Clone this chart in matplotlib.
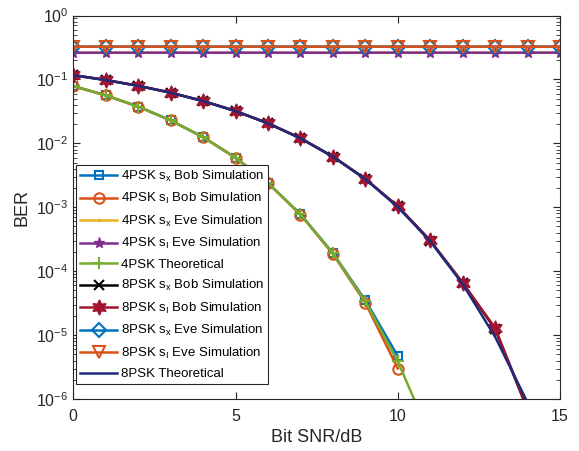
import matplotlib
matplotlib.use('Agg')
import matplotlib.pyplot as plt
import numpy as np

plt.rcParams['font.family'] = ['Liberation Sans', 'DejaVu Sans']
plt.rcParams['mathtext.fontset'] = 'custom'
plt.rcParams['mathtext.rm'] = 'Liberation Sans'
plt.rcParams['mathtext.default'] = 'regular'

AX_COLOR = '#262626'

snr_sim4 = [0, 1, 2, 3, 4, 5, 6, 7, 8, 9, 10]
snr_th4 = [0, 1, 2, 3, 4, 5, 6, 7, 8, 9, 10, 11]
snr_sim8 = [0, 1, 2, 3, 4, 5, 6, 7, 8, 9, 10, 11, 12, 13, 14]
snr_all = [0, 1, 2, 3, 4, 5, 6, 7, 8, 9, 10, 11, 12, 13, 14, 15]

# 4PSK
ber4_sx_bob = [0.0787, 0.0563, 0.0376, 0.0229, 0.0125, 0.00597, 0.00240, 7.8e-4, 1.92e-4, 3.5e-5, 4.7e-6]
ber4_si_bob = [0.0785, 0.0562, 0.0375, 0.0228, 0.0125, 0.00594, 0.00238, 7.7e-4, 1.86e-4, 3.2e-5, 3.0e-6]
ber4_sx_eve = [0.262, 0.262, 0.261, 0.262, 0.262, 0.262, 0.261, 0.262, 0.262, 0.262, 0.262, 0.261, 0.262, 0.262, 0.262, 0.262]
ber4_si_eve = [0.261, 0.262, 0.262, 0.262, 0.261, 0.262, 0.262, 0.262, 0.261, 0.262, 0.262, 0.262, 0.262, 0.261, 0.262, 0.262]
ber4_theory = [0.0787, 0.0563, 0.0375, 0.0229, 0.0125, 0.00595, 0.00239, 7.73e-4, 1.91e-4, 3.36e-5, 3.87e-6, 2.61e-7]

# 8PSK
ber8_sx_bob = [0.1165, 0.0978, 0.0794, 0.0620, 0.0459, 0.0320, 0.0206, 0.0120, 0.00620, 0.00277, 0.00103, 3.0e-4, 6.5e-5, 1.25e-5, 6.8e-7]
ber8_si_bob = [0.1168, 0.0980, 0.0796, 0.0621, 0.0460, 0.0321, 0.0206, 0.0121, 0.00622, 0.00279, 0.00104, 3.02e-4, 6.6e-5, 1.29e-5, 7.0e-7]
ber8_sx_eve = [0.326, 0.325, 0.326, 0.326, 0.325, 0.326, 0.326, 0.326, 0.325, 0.326, 0.326, 0.326, 0.325, 0.326, 0.326, 0.326]
ber8_si_eve = [0.325, 0.326, 0.326, 0.325, 0.326, 0.326, 0.326, 0.325, 0.326, 0.326, 0.325, 0.326, 0.326, 0.326, 0.325, 0.326]
ber8_theory = [0.1162, 0.0977, 0.0793, 0.0619, 0.0458, 0.0319, 0.0205, 0.01195, 0.00618, 0.00275, 0.00101, 2.94e-4, 6.3e-5, 9.4e-6, 8.8e-7, 4.5e-8]

labels = [
    '4PSK s$_x$ Bob Simulation',
    '4PSK s$_I$ Bob Simulation',
    '4PSK s$_x$ Eve Simulation',
    '4PSK s$_I$ Eve Simulation',
    '4PSK Theoretical',
    '8PSK s$_x$ Bob Simulation',
    '8PSK s$_I$ Bob Simulation',
    '8PSK s$_x$ Eve Simulation',
    '8PSK s$_I$ Eve Simulation',
    '8PSK Theoretical',
]

fig = plt.figure(figsize=(5.79, 4.51), dpi=100)
ax = fig.add_axes([73.3 / 579, 1 - 399 / 451, (560 - 73.3) / 579, (399 - 15.5) / 451])

lw = 1.8
mew = 1.5
ax.semilogy(snr_sim4, ber4_sx_bob, ls='-', marker='s', color='#0072BD', lw=lw, ms=6, mew=mew, mfc='none', label=labels[0])
ax.semilogy(snr_sim4, ber4_si_bob, ls='-', marker='o', color='#D95319', lw=lw, ms=7.5, mew=mew, mfc='none', label=labels[1])
ax.semilogy(snr_all, ber4_sx_eve, ls='-', marker='.', color='#EDB120', lw=lw, ms=3, label=labels[2])
ax.semilogy(snr_all, ber4_si_eve, ls='-', marker='*', color='#7E2F8E', lw=lw, ms=8, mew=1.0, label=labels[3])
ax.semilogy(snr_th4, ber4_theory, ls='-', marker='+', color='#77AC30', lw=lw, ms=9, mew=mew, label=labels[4])
ax.semilogy(snr_sim8, ber8_sx_bob, ls='-', marker='x', color='black', lw=lw, ms=7, mew=mew, label=labels[5])
ax.semilogy(snr_sim8, ber8_si_bob, ls='-', marker=(6, 1, 0), color='#A2142F', lw=lw, ms=11, mew=1.0, label=labels[6])
ax.semilogy(snr_all, ber8_sx_eve, ls='-', marker='D', color='#0072BD', lw=lw, ms=7.5, mew=mew, mfc='none', label=labels[7])
ax.semilogy(snr_all, ber8_si_eve, ls='-', marker='v', color='#D95319', lw=lw, ms=9, mew=mew, mfc='none', label=labels[8])
ax.semilogy(snr_all, ber8_theory, ls='-', color='#202A7A', lw=lw, label=labels[9])

ax.set_xlim(0, 15)
ax.set_ylim(1e-6, 1e0)
ax.set_xticks([0, 5, 10, 15])
ax.set_yticks([1e-6, 1e-5, 1e-4, 1e-3, 1e-2, 1e-1, 1e0])

for spine in ax.spines.values():
    spine.set_color(AX_COLOR)
    spine.set_linewidth(0.8)
ax.tick_params(which='both', direction='in', top=True, right=True, colors=AX_COLOR, labelsize=11.5)
ax.tick_params(which='major', length=5)
ax.tick_params(which='minor', length=3)
ax.tick_params(axis='x', pad=7)

ax.set_xlabel('Bit SNR/dB', fontsize=13, color=AX_COLOR)
ax.set_ylabel('BER', fontsize=13, color=AX_COLOR)

leg = ax.legend(loc='lower left', bbox_to_anchor=(0.006, 0.038), fontsize=9.5, numpoints=1,
                handlelength=2.8, handletextpad=0.3, labelspacing=0.56, borderpad=0.3,
                borderaxespad=0.0, fancybox=False, framealpha=1, edgecolor=AX_COLOR)
leg.get_frame().set_linewidth(0.8)
for txt in leg.get_texts():
    txt.set_color('black')

fig.savefig('out.png', dpi=100)
